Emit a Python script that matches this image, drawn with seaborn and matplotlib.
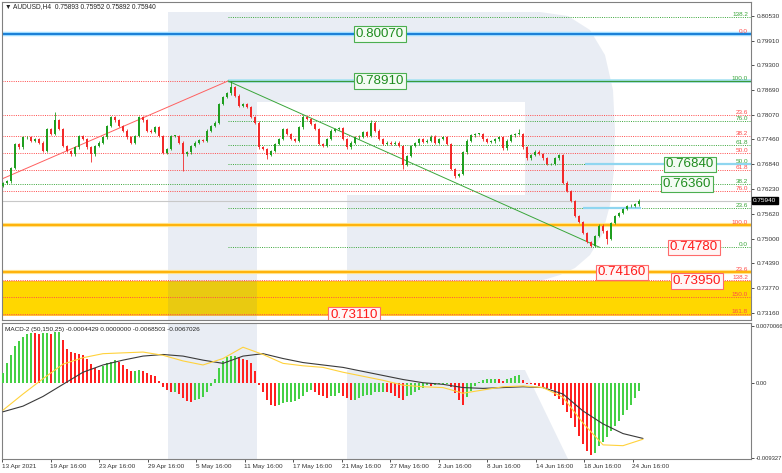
import numpy as np
import pandas as pd
import matplotlib
matplotlib.use("Agg")
import matplotlib.pyplot as plt
import matplotlib.transforms as mtransforms
from matplotlib.patches import Polygon
import seaborn as sns

# =====================================================
# 1. DATA (one candle per ~4 px)
# =====================================================

first_open = 0.7630
closes = [
    0.7638, 0.7642, 0.7675, 0.7735, 0.7726, 0.7751, 0.7751, 0.7743, 0.7747, 0.7738,
    0.7718, 0.7772, 0.7759, 0.7793, 0.7772, 0.7730, 0.7718, 0.7709, 0.7726, 0.7755,
    0.7747, 0.7726, 0.7709, 0.7730, 0.7738, 0.7751, 0.7780, 0.7801, 0.7793, 0.7780,
    0.7768, 0.7751, 0.7738, 0.7755, 0.7801, 0.7793, 0.7768, 0.7764, 0.7776, 0.7755,
    0.7712, 0.7722, 0.7755, 0.7755, 0.7738, 0.7709, 0.7714, 0.7729, 0.7738, 0.7745,
    0.7743, 0.7768, 0.7780, 0.7788, 0.7834, 0.7851, 0.7860, 0.7876, 0.7855, 0.7830,
    0.7834, 0.7826, 0.7801, 0.7788, 0.7726, 0.7722, 0.7708, 0.7718, 0.7735, 0.7747,
    0.7772, 0.7759, 0.7747, 0.7743, 0.7776, 0.7801, 0.7797, 0.7784, 0.7772, 0.7734,
    0.7730, 0.7747, 0.7768, 0.7772, 0.7774, 0.7747, 0.7726, 0.7738, 0.7751, 0.7753,
    0.7764, 0.7755, 0.7788, 0.7768, 0.7747, 0.7734, 0.7738, 0.7734, 0.7738, 0.7730,
    0.7682, 0.7705, 0.7730, 0.7736, 0.7747, 0.7740, 0.7743, 0.7753, 0.7738, 0.7747,
    0.7751, 0.7735, 0.7672, 0.7656, 0.7660, 0.7714, 0.7743, 0.7756, 0.7760, 0.7760,
    0.7746, 0.7739, 0.7741, 0.7746, 0.7751, 0.7724, 0.7743, 0.7756, 0.7760, 0.7760,
    0.7726, 0.7699, 0.7707, 0.7716, 0.7710, 0.7699, 0.7685, 0.7685, 0.7699, 0.7707,
    0.7639, 0.7618, 0.7593, 0.7556, 0.7541, 0.7514, 0.7491, 0.7482, 0.7506, 0.7532,
    0.7518, 0.7499, 0.7539, 0.7556, 0.7564, 0.7574, 0.7581, 0.7582, 0.7585, 0.7594,
]
# wicks that clearly stick out
wick_highs = {13: 0.7814, 34: 0.7805, 57: 0.7891, 75: 0.7806, 92: 0.7795, 129: 0.7772}
wick_lows = {22: 0.7690, 45: 0.7668, 66: 0.7698, 100: 0.7672, 113: 0.7650, 147: 0.7478, 151: 0.7487}

# MACD histogram, in units of 1e-4
macd_hist = [
    12, 25, 34, 45, 52, 57, 60, 62, 61, 60,
    62, 62, 60, 63, 63, 53, 42, 38, 37, 36,
    34, 29, 23, 18, 16, 21, 24, 26, 28, 26,
    22, 17, 14, 15, 16, 14, 12, 10, 8, 2,
    -5, -9, -11, -11, -14, -19, -23, -24, -22, -20,
    -18, -12, -4, 5, 18, 27, 32, 33, 33, 32,
    30, 28, 25, 14, -3, -12, -21, -28, -29, -27,
    -25, -24, -24, -23, -20, -17, -11, -9, -11, -15,
    -17, -19, -17, -17, -13, -16, -19, -21, -21, -19,
    -17, -15, -15, -12, -11, -11, -12, -13, -16, -19,
    -21, -17, -15, -12, -9, -6, -3, -4, -3, -2,
    -1, -1, -5, -13, -22, -27, -18, -10, -4, 1,
    3, 4, 4, 5, 4, 2, 4, 6, 8, 9,
    3, -1, -2, -3, -4, -5, -6, -8, -16, -20,
    -28, -36, -44, -55, -66, -76, -84, -89, -87, -79,
    -73, -67, -60, -54, -47, -40, -34, -27, -19, -10,
]
macd_line_pos = list(range(0, 161, 5))
macd_black = [-36, -29, -17, -2, 13, 22, 28, 33, 35, 33, 28, 24, 33, 36, 30, 25, 22,
              19, 14, 9, 4, 0, -2, -6, -7, -6, -5, -6, -14, -35, -51, -63, -69]
macd_yellow = [-34, -14, 5, 23, 31, 36, 37, 38, 34, 27, 22, 30, 44, 35, 24, 21, 19,
               13, 8, 3, -3, -5, -6, -13, -9, -5, -4, -6, -18, -50, -77, -78, -70]

price_ticks = [0.80530, 0.79910, 0.79300, 0.78690, 0.78070, 0.77460, 0.76840,
               0.76230, 0.75620, 0.75000, 0.74390, 0.73770, 0.73160]
macd_ticks = [0.0070066, 0.0, -0.0093271]
macd_tick_labels = ["0.0070066", "0.00", "-0.009327"]
date_labels = ["13 Apr 2021", "19 Apr 16:00", "23 Apr 16:00", "29 Apr 16:00",
               "5 May 16:00", "11 May 16:00", "17 May 16:00", "21 May 16:00",
               "27 May 16:00", "2 Jun 16:00", "8 Jun 16:00", "14 Jun 16:00",
               "18 Jun 16:00", "24 Jun 16:00"]

# Fibonacci grids
fib_ratios = [0.0, 23.6, 38.2, 50.0, 61.8, 76.0, 100.0, 138.2, 150.0, 161.8]
red_high, red_low = 0.7891, 0.7533
green_low, green_high = 0.7478, 0.7891
green_ratios = [0.0, 23.6, 38.2, 50.0, 61.8, 76.0, 100.0, 138.2]
extra_red_levels = [0.8007, 0.7416]
extra_red_labels = ["0.0", "23.6"]

box_values = ["0.80070", "0.78910", "0.76840", "0.76360",
              "0.74780", "0.74160", "0.73950", "0.73110"]
box_kind = ["g", "g", "g", "g", "r", "r", "r", "r"]
box_x = [94.25, 94.25, 171.75, 171.0, 172.75, 154.75, 173.5, 87.75]

current_price = 0.75940
band_low, band_high = 0.7311, 0.7395
orange_levels = [0.7533, 0.7416]

# =====================================================
# 2. FIGURE
# =====================================================

sns.set_theme(style="white")
plt.rcParams["font.family"] = ["Liberation Sans", "DejaVu Sans"]

W, H = 782, 473
fig = plt.figure(figsize=(W / 100, H / 100), dpi=100)
ax = fig.add_axes([2 / W, 1 - 320 / H, 749 / W, 318 / H])
ax2 = fig.add_axes([2 / W, 1 - 459 / H, 749 / W, 136 / H])

xmin, xmax = -0.25, 187.0
for a in (ax, ax2):
    a.set_xlim(xmin, xmax)
    a.set_facecolor("white")
    for s in a.spines.values():
        s.set_color("#808080")
        s.set_linewidth(0.8)
ax.set_ylim(0.7298, 0.8087)
ax2.set_ylim(-0.00945, 0.0074)

# watermark "R" (pixel coords of the figure)
px = mtransforms.Affine2D().scale(1 / 100, -1 / 100).translate(0, H / 100) + fig.dpi_scale_trans
wm_color = (63 / 255, 97 / 255, 155 / 255)
wm_main = [
    [(168, 12), (257, 12), (257, 320), (168, 320)],
    [(257, 12), (540, 12), (568, 16), (590, 30), (605, 55), (613, 90), (615, 130),
     (614, 170), (610, 205), (602, 235), (590, 255), (575, 268), (560, 275),
     (540, 281), (347, 281), (347, 195), (525, 195), (525, 102), (257, 102)],
]
wm_macd = [
    [(168, 323), (257, 323), (257, 459), (168, 459)],
    [(347, 370), (525, 370), (568, 459), (347, 459)],
]
for a, shapes in ((ax, wm_main), (ax2, wm_macd)):
    for pts in shapes:
        p = Polygon(pts, closed=True, transform=px, facecolor=wm_color,
                    alpha=0.11, edgecolor="none", zorder=1.5)
        a.add_patch(p)

# ---------------- levels ----------------
ax.axhspan(band_low, band_high, color="#ffd700", zorder=1, lw=0)
ax.axhline(band_low, color="#ffb020", lw=0.6, zorder=1.2)
ax.axhline(band_high, color="#ffb020", lw=0.6, zorder=1.2)

dot = (0, (1.0, 1.3))
red_levels = [red_high - r / 100 * (red_high - red_low) for r in fib_ratios]
ax.hlines(red_levels, xmin, xmax, colors="#ff4a4a", linestyles=dot, lw=0.7, zorder=2)
green_levels = [green_low + r / 100 * (green_high - green_low) for r in green_ratios]
for lvl, r in zip(green_levels, green_ratios):
    start = xmin if r == 38.2 else 56.25
    ax.hlines(lvl, start, xmax, colors="#3aa63a", linestyles=dot, lw=0.7, zorder=2)

for lvl in orange_levels:
    ax.axhline(lvl, color="#ffe38a", lw=3.0, zorder=2.1)
    ax.axhline(lvl, color="#ffae00", lw=1.3, zorder=2.2)

ax.axhline(0.8007, color="#9fdcff", lw=3.2, zorder=2.1)
ax.axhline(0.8007, color="#1a7fd6", lw=1.4, zorder=2.2)
ax.hlines(0.7891, 56.25, xmax, colors="#a6e2f2", lw=2.6, zorder=2.1)
ax.hlines(0.7891, 56.25, xmax, colors="#3a9a3a", lw=0.9, zorder=2.2)
ax.hlines([0.7684], 145.5, xmax, colors="#8fd6f0", lw=1.6, zorder=2.1)
ax.hlines([0.7575], 145.0, 159.5, colors="#8fd6f0", lw=1.6, zorder=2.1)
ax.axhline(current_price, color="#c8c8c8", lw=0.8, zorder=2.05)

# fib labels
lbl_x = 186.25
for lvl, r in zip(red_levels[1:], fib_ratios[1:]):
    ax.text(lbl_x, lvl, f"{r:.1f}", color="#ff4a4a", fontsize=4.6, ha="right",
            va="bottom", zorder=5)
for lvl, t in zip(extra_red_levels, extra_red_labels):
    ax.text(lbl_x, lvl, t, color="#ff4a4a", fontsize=4.6, ha="right", va="bottom", zorder=5)
for lvl, r in zip(green_levels, green_ratios):
    ax.text(lbl_x, lvl, f"{r:.1f}", color="#3aa63a", fontsize=4.6, ha="right",
            va="bottom", zorder=5)

# trend lines
ax.plot([-27, 56.25], [red_low, red_high], color="#ff6060", lw=0.7, zorder=2.5)
ax.plot([56.25, 149.25], [green_high, green_low], color="#3aa63a", lw=0.7, zorder=2.5)

# ---------------- candles ----------------
closes_arr = np.array(closes)
opens_arr = np.concatenate([[first_open], closes_arr[:-1]])
idx = np.arange(len(closes_arr))
hi = np.maximum(opens_arr, closes_arr) + 0.0003
lo = np.minimum(opens_arr, closes_arr) - 0.0003
for k, v in wick_highs.items():
    hi[k] = v
for k, v in wick_lows.items():
    lo[k] = v
up = closes_arr >= opens_arr
col = np.where(up, "#1f9e1f", "#f22a2a")
ax.vlines(idx, lo, hi, colors=col, lw=0.6, zorder=3)
body = np.maximum(np.abs(closes_arr - opens_arr), 0.00008)
ax.bar(idx, body, bottom=np.minimum(opens_arr, closes_arr), width=0.55,
       color=col, edgecolor="none", zorder=3.1)

# boxed price labels
for t, kind, bx in zip(box_values, box_kind, box_x):
    if kind == "g":
        fc, ec, tc = "#f3fbf3", "#4caf50", "#1e8c1e"
    else:
        fc, ec, tc = "#fff6f6", "#ff6b6b", "#ff1a1a"
    ax.text(bx, float(t), t, ha="center", va="center", fontsize=9.6, color=tc,
            zorder=6, clip_on=True,
            bbox=dict(boxstyle="square,pad=0.14", fc=fc, ec=ec, lw=0.8))

# price axis
ax.yaxis.tick_right()
ax.set_yticks(price_ticks)
ax.set_yticklabels([f"{v:.5f}" for v in price_ticks])
ax.tick_params(axis="y", labelsize=4.6, length=2.5, width=0.6, pad=1.5,
               colors="#333333", right=True, left=False)
ax.tick_params(axis="x", bottom=False, labelbottom=False)
ax.set_xlabel("")
ax.set_ylabel("")
ax.text(1.003, current_price, "0.75940", transform=mtransforms.blended_transform_factory(
    ax.transAxes, ax.transData), fontsize=4.6, color="white", va="center", ha="left",
    bbox=dict(boxstyle="square,pad=0.2", fc="black", ec="black"), clip_on=False)

fig.text(5 / W, 1 - 7 / H, "\u25bc AUDUSD,H4  0.75893 0.75952 0.75892 0.75940",
         fontsize=4.8, color="#222222", va="center", ha="left")

# ---------------- MACD ----------------
hist_df = pd.DataFrame({"pos": np.arange(len(macd_hist)),
                        "value": np.array(macd_hist) * 1e-4})
hist_df["color"] = np.where(hist_df["value"].diff().fillna(1) >= 0, "#45d045", "#ff2020")
ax2.bar(hist_df["pos"], hist_df["value"], width=0.62, color=hist_df["color"],
        edgecolor="none", zorder=3)
sns.lineplot(x=macd_line_pos, y=np.array(macd_black) * 1e-4, color="#3a3a3a",
             lw=0.8, ax=ax2, zorder=4)
sns.lineplot(x=macd_line_pos, y=np.array(macd_yellow) * 1e-4, color="#ffd23c",
             lw=0.8, ax=ax2, zorder=4)

ax2.set_xlim(xmin, xmax)
ax2.set_ylim(-0.00945, 0.0074)
ax2.yaxis.tick_right()
ax2.set_yticks(macd_ticks)
ax2.set_yticklabels(macd_tick_labels)
ax2.tick_params(axis="y", labelsize=4.2, length=2.5, width=0.6, pad=1.0,
                colors="#333333", right=True, left=False)
tick_pos = np.arange(len(date_labels)) * 12.125 - 0.25
ax2.set_xticks(tick_pos)
ax2.set_xticklabels(date_labels, ha="left")
ax2.tick_params(axis="x", labelsize=4.6, length=2, width=0.6, pad=1.5,
                colors="#333333", bottom=True)
ax2.set_xlabel("")
ax2.set_ylabel("")
ax2.text(3 / 749, 1 - 6 / 136, "MACD-2 (50,150,25) -0.0004429 0.0000000 -0.0068503 -0.0067026",
         transform=ax2.transAxes, fontsize=4.6, color="#222222", va="center", ha="left")

fig.savefig("out.png", dpi=100)
